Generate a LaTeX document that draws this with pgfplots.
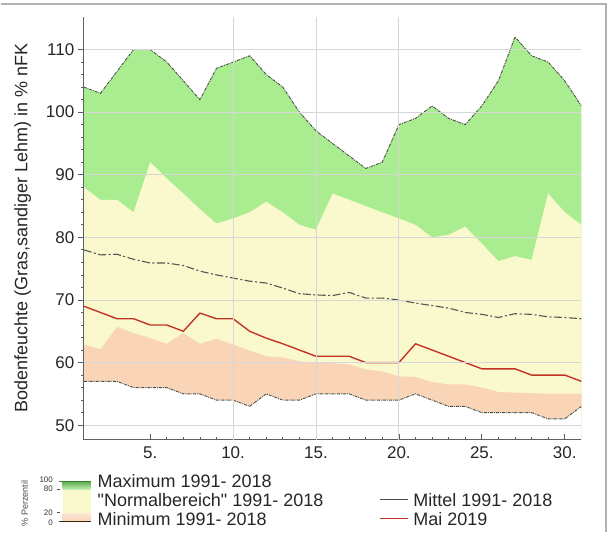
\documentclass[border=0pt]{standalone}
\usepackage{fontspec}
\setmainfont{Liberation Sans}[Ligatures=TeXOff]
\usepackage{pgfplots}
\pgfplotsset{compat=1.18}

\definecolor{fillmax}{RGB}{170,237,145}
\definecolor{fillnorm}{RGB}{250,248,205}
\definecolor{fillmin}{RGB}{249,212,182}
\definecolor{linemai}{RGB}{195,52,38}
\definecolor{lineext}{RGB}{70,78,70}
\definecolor{linemean}{RGB}{85,85,85}
\definecolor{gridc}{RGB}{215,215,215}
\definecolor{axisc}{RGB}{95,95,95}

% Tageswerte Mai (1..31)
\pgfplotstableread{
d   max   p80  mean  mai   p20   min
1   104   88   78.0  69.0  62.9  57
2   103   86   77.2  68.0  62.1  57
3   106.5 86   77.3  67.0  65.7  57
4   110   84   76.5  67.0  64.7  56
5   110   92   75.9  66.0  63.9  56
6   108   89.4 75.9  66.0  63.0  56
7   105   87   75.5  65.0  64.7  55
8   102   84.5 74.6  67.9  63.0  55
9   107   82.2 74.0  67.0  63.8  54
10  108   83   73.5  67.0  62.9  54
11  109   84   73.0  65.0  61.9  53
12  106   85.7 72.7  63.9  61.0  55
13  104   84   71.9  63.0  60.8  54
14  100   82   71.0  62.0  60.2  54
15  97    81.2 70.8  61.0  60.0  55
16  95    87   70.7  61.0  59.9  55
17  93    86   71.2  61.0  59.7  55
18  91    85   70.3  60.0  58.9  54
19  92    84   70.3  60.0  58.6  54
20  98    83   70.0  60.0  57.8  54
21  99    82   69.5  63.0  57.7  55
22  101   80   69.1  62.0  56.9  54
23  99    80.4 68.7  61.0  56.5  53
24  98    81.7 68.0  60.0  56.5  53
25  101   79   67.7  59.0  56.0  52
26  105   76.2 67.2  59.0  55.3  52
27  112   77   67.8  59.0  55.2  52
28  109   76.4 67.7  58.0  55.1  52
29  108   87   67.3  58.0  55.0  51
30  105   84   67.2  58.0  55.0  51
31  101   82   67.0  57.0  55.0  53
}\maitable

\begin{document}
\begin{tikzpicture}[x=1bp,y=1bp]
\path (0,0) rectangle (609,533);
\draw[gray!60, line width=1.2bp] (0,529) -- (606,529) -- (606,0);

\begin{axis}[
  at={(83.3bp,93bp)}, anchor=south west,
  scale only axis, width=498bp, height=423bp,
  xmin=1, xmax=31, ymin=47.7, ymax=115.2,
  axis lines=left,
  axis line style={-, axisc, line width=1.1bp},
  axis on top,
  xtick={5,10,15,20,25,30},
  xticklabels={5.,10.,15.,20.,25.,30.},
  minor x tick num=4,
  ytick={50,60,70,80,90,100,110},
  yticklabels={50,60,70,80,90,100,110},
  minor y tick num=4,
  xtick align=inside, ytick align=outside,
  major tick length=6bp, minor tick length=3bp,
  tick style={axisc, line width=0.8bp},
  ymajorgrids,
  grid style={gridc, line width=0.9bp},
  extra x ticks={10,15,20},
  extra x tick labels={,,},
  extra x tick style={grid=major, major tick length=0pt},
  tick label style={font=\fontsize{17bp}{20bp}\selectfont, text=black!85},
  xticklabel style={yshift=-4bp},
  ylabel={Bodenfeuchte (Gras,sandiger Lehm) in \% nFK},
  ylabel style={at={(axis description cs:-0.123,0.5)}, anchor=center,
    font=\fontsize{18bp}{21bp}\selectfont, text=black!85},
]
\addplot[fill=fillmax, draw=none] table[x=d, y=max] {\maitable} \closedcycle;
\addplot[fill=fillnorm, draw=none] table[x=d, y=p80] {\maitable} \closedcycle;
\addplot[fill=fillmin, draw=none] table[x=d, y=p20] {\maitable} \closedcycle;
\addplot[fill=white, draw=none] table[x=d, y=min] {\maitable} \closedcycle;

\addplot[lineext, line width=0.9bp, densely dashdotted] table[x=d, y=max] {\maitable};
\addplot[lineext, line width=0.9bp, densely dashdotted] table[x=d, y=min] {\maitable};
\addplot[linemean, line width=1.1bp, dash pattern=on 8bp off 2.5bp on 2bp off 2.5bp] table[x=d, y=mean] {\maitable};
\addplot[linemai, line width=1.4bp] table[x=d, y=mai] {\maitable};
\end{axis}

% Legende
\node[rotate=90, font=\fontsize{9bp}{11bp}\selectfont, text=black!70] at (24,29) {\% Perzentil};
\begin{scope}[font=\fontsize{8bp}{9bp}\selectfont, text=black!80, inner sep=0.5bp]
  \node[anchor=east] at (53,53) {100};
  \node[anchor=east] at (53,43.5) {80};
  \node[anchor=east] at (53,20) {20};
  \node[anchor=east] at (53,10) {0};
\end{scope}
\draw[black!70, line width=0.6bp] (56,43.5) -- (59,43.5) (56,20) -- (59,20);
\shade[top color=fillmax!80!green!70!black, bottom color=fillmax!70!white] (62,43) rectangle (90,51);
\fill[fillnorm] (62,19) rectangle (90,43);
\shade[top color=fillmin!60!white, bottom color=fillmin] (62,11) rectangle (90,19);
\draw[green!40!black!80, line width=1.6bp] (58,51) -- (90,51);
\draw[black!70!brown, line width=1.4bp] (58,11) -- (90,11);

\begin{scope}[font=\fontsize{18bp}{21bp}\selectfont, text=black!85]
  \node[anchor=west, inner sep=0pt] at (97,51) {Maximum 1991- 2018};
  \node[anchor=west, inner sep=0pt] at (97,32) {"Normalbereich" 1991- 2018};
  \node[anchor=west, inner sep=0pt] at (97,13) {Minimum 1991- 2018};
  \node[anchor=west, inner sep=0pt] at (413,32) {Mittel 1991- 2018};
  \node[anchor=west, inner sep=0pt] at (413,13) {Mai 2019};
\end{scope}
\draw[black!70, line width=0.8bp] (380,33) -- (408,33);
\draw[linemai, line width=1.5bp] (380,14) -- (408,14);
\end{tikzpicture}
\end{document}
